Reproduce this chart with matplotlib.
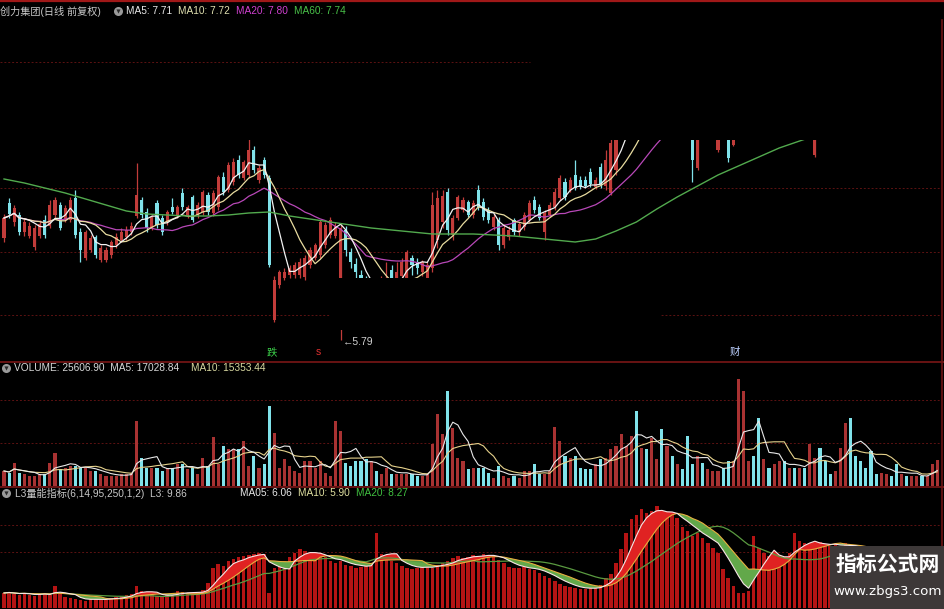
import numpy as np
import pandas as pd
import matplotlib
matplotlib.use("Agg")
import matplotlib.pyplot as plt
from matplotlib.patches import Rectangle
from matplotlib.lines import Line2D

plt.rcParams['font.family'] = ['Liberation Sans', 'Noto Sans CJK SC', 'DejaVu Sans']

# ---------------- data (prices in cents) ----------------
opens_c = [
    681,716,697,704,687,683,672,683,699,693,
    704,714,699,699,721,687,661,669,682,659,
    659,664,674,679,682,687,703,719,707,691,
    716,701,697,712,704,726,704,722,704,707,
    724,706,712,742,729,737,759,741,744,769,
    739,759,741,599,634,641,644,644,644,642,
    654,661,664,674,684,683,619,689,667,655,
    644,637,619,627,614,621,649,634,643,637,
    661,657,647,634,651,679,697,727,684,701,
    709,717,704,729,717,709,692,699,674,682,
    699,687,692,699,719,712,687,704,712,721,
    737,729,744,739,739,747,732,752,733,726,
    749,785,795,805,825,823,843,838,843,860,
    851,855,835,840,833,824,751,825,818,811,
    769,817,807,774,811,823,833,839,833,817,
    825,808,809,813,803,807,799,805,789,764,
    805,803,809,803,809,817,839,825,817,813,
    809,805,791,795,801,803,785,799,783,785,
    793,783,785,788]
closes_c = [
    701,705,711,687,697,693,691,695,684,714,
    719,691,711,719,684,669,687,681,664,671,
    669,677,682,687,689,693,724,704,691,702,
    694,687,707,707,712,712,712,699,714,727,
    707,726,742,727,754,757,744,757,769,749,
    751,744,654,639,647,647,651,654,657,661,
    669,674,697,694,699,693,691,669,657,647,
    637,629,624,621,624,631,639,647,657,667,
    654,651,657,654,714,721,723,689,701,722,
    719,704,716,712,702,699,702,674,691,689,
    687,695,704,716,709,701,706,714,727,741,
    722,739,731,732,733,735,739,735,759,776,
    781,791,801,811,819,829,837,844,849,854,
    857,849,841,834,827,759,809,819,824,817,
    801,811,761,804,817,829,839,833,827,823,
    819,814,815,807,809,801,805,799,795,795,
    799,797,803,809,815,823,833,819,811,807,
    803,799,797,801,795,797,791,793,789,791,
    787,789,791,794]
highs_c = [
    705,721,714,707,701,697,694,699,704,719,
    722,717,714,722,729,691,689,684,684,674,
    672,679,686,691,693,697,756,722,711,704,
    719,704,709,721,714,731,714,724,717,729,
    727,729,744,747,757,761,764,759,781,773,
    754,762,744,643,649,651,654,657,661,664,
    672,676,699,697,702,697,695,693,671,661,
    649,643,634,639,643,657,654,657,661,669,
    664,661,659,657,727,729,729,731,704,724,
    722,719,719,734,721,712,705,702,695,693,
    701,697,707,719,723,715,709,717,731,744,
    741,742,759,743,743,751,742,756,769,789,
    794,795,805,815,829,833,847,848,853,864,
    861,859,845,844,837,829,819,829,828,821,
    807,821,811,809,821,833,843,843,837,827,
    829,818,819,817,813,811,809,809,799,801,
    809,807,813,813,819,827,843,829,821,817,
    813,809,801,805,805,807,795,803,793,795,
    797,793,795,798]
lows_c = [
    677,701,693,684,683,681,669,681,681,691,
    701,689,697,697,681,657,659,667,661,657,
    657,661,671,677,679,684,701,701,687,689,
    691,684,694,705,701,709,701,697,701,704,
    704,703,709,724,727,734,741,739,741,746,
    736,741,652,597,631,639,641,641,641,639,
    651,659,661,671,681,681,579,663,651,639,
    629,621,613,614,609,617,627,629,639,634,
    644,645,643,627,647,671,691,684,679,699,
    707,702,701,709,699,696,689,669,671,679,
    684,683,689,697,706,699,679,702,709,719,
    719,727,729,730,731,732,730,731,729,724,
    744,781,791,801,815,819,833,834,839,850,
    847,845,831,830,823,737,749,815,814,807,
    767,807,757,773,807,819,829,829,823,813,
    815,804,805,803,799,797,795,795,785,762,
    795,793,799,799,805,813,829,815,807,803,
    799,795,787,791,791,793,781,789,780,781,
    783,780,781,784]

# volume in thousands
volume_k = [
    15,13,23,13,12,10,10,12,12,23,
    33,17,18,20,20,18,18,15,15,12,
    10,10,10,12,12,13,65,28,18,18,
    18,15,18,18,22,22,17,18,12,28,
    20,49,22,40,37,37,37,45,20,30,
    18,22,80,53,18,27,20,15,13,25,
    25,18,25,13,10,65,55,23,20,25,
    25,27,25,15,12,18,12,12,12,12,
    12,10,10,12,42,72,52,95,58,28,
    25,17,18,18,18,13,8,20,10,8,
    10,8,15,15,22,12,12,15,59,45,
    30,28,30,18,17,17,22,27,28,37,
    40,52,40,50,75,38,37,48,27,57,
    40,30,22,17,50,22,30,23,17,15,
    15,18,25,25,107,95,25,30,68,27,
    18,22,25,25,18,18,18,18,42,28,
    38,25,12,15,38,63,68,30,25,18,
    35,12,13,12,10,22,12,10,10,10,
    10,10,22,25.6]

# L3 volume-energy indicator
l3_values = [
    3.0,3.2,2.8,2.6,3.0,2.7,2.5,2.8,3.0,2.6,4.4,3.0,
    2.2,2.0,1.8,1.6,1.5,1.8,2.0,1.7,1.6,2.0,2.2,2.4,2.6,2.8,
    4.4,3.4,3.0,2.6,2.4,2.2,2.6,3.0,3.4,3.2,3.0,2.8,3.2,
    3.6,5.0,8.0,8.8,8.4,9.4,9.8,10.2,10.4,10.6,10.8,11.0,10.8,3.0,
    8.0,8.4,9.4,10.2,11.0,11.8,11.4,11.0,10.2,10.4,10.2,9.4,
    9.0,9.4,8.6,8.4,8.0,8.2,8.6,9.0,
    15.0,
    10.8,10.0,9.4,9.0,8.4,8.0,7.8,8.0,8.4,8.6,
    8.0,8.6,9.0,9.4,10.0,10.4,10.0,10.2,10.6,10.4,
    10.8,10.6,10.2,9.6,9.0,
    8.2,8.0,8.0,8.2,7.8,7.6,
    7.0,6.4,6.0,5.4,4.8,4.4,
    4.2,4.0,3.8,3.8,4.0,4.2,4.6,
    6.0,6.8,9.0,11.8,
    15.0,17.8,18.6,19.8,19.0,19.4,20.4,
    19.0,18.4,18.8,18.0,
    16.2,15.4,14.4,15.0,
    14.0,13.0,12.0,11.0,
    7.8,6.0,4.4,3.0,3.0,3.4,
    14.4,
    12.0,11.0,10.4,10.0,9.6,10.2,11.0,
    15.0,
    13.4,13.0,12.6,12.8,13.2,12.6,12.4,12.8,12.0,
    13.0,12.5,12.0,11.5,11.0,10.0,9.0,8.0,7.0,
    6.2,5.0,5.3,5.6,5.8,4.8,5.0,5.4,5.2,9.86]

ma60_days = list(range(0, 181, 4)) + [183]
ma60_vals = [7.40,7.36,7.31,7.26,7.20,7.14,7.08,7.05,7.04,7.03,7.03,7.04,7.06,7.07,
             7.03,7.00,6.97,6.94,6.91,6.89,6.87,6.85,6.85,6.85,6.84,6.83,6.81,6.79,
             6.77,6.80,6.88,6.97,7.10,7.22,7.33,7.44,7.53,7.62,7.71,7.78,7.85,7.91,
             7.96,8.01,8.05,8.09,8.11]

# ---------------- figure ----------------
W, H = 945, 609
fig = plt.figure(figsize=(W / 100, H / 100), dpi=100, facecolor='black')

def fx(px):
    return px / W

def fy(py):
    return 1 - py / H

SP = 5.1  # pixel spacing per day
XLIM = (-4 / SP, 938 / SP)
RIGHT = 942

ax_p = fig.add_axes([0, fy(362), fx(RIGHT), 222 / H])
ax_v = fig.add_axes([0, fy(486), fx(RIGHT), 123 / H])
ax_l = fig.add_axes([0, fy(608), fx(RIGHT), 120 / H])
for ax in (ax_p, ax_v, ax_l):
    ax.set_facecolor('black')
    ax.set_xlim(*XLIM)
    ax.set_axis_off()

o = np.array(opens_c) / 100.0
c = np.array(closes_c) / 100.0
h = np.array(highs_c) / 100.0
l = np.array(lows_c) / 100.0
N = len(c)
x = np.arange(N)
up = c >= o
RED = '#c23c3a'
CYAN = '#80e2ea'
cols = np.where(up, RED, CYAN)

grid_kw = dict(color='#5c1212', lw=0.7, ls=(0, (2, 2)), zorder=0.5)

# ---- price panel ----
ax_p.set_ylim(5.57, 7.79)
for gy in (7.31, 6.67, 6.04):
    ax_p.axhline(gy, **grid_kw)
ax_p.vlines(x, l, h, colors=cols, lw=0.9, zorder=2)
ax_p.bar(x, np.maximum(np.abs(c - o), 0.004), bottom=np.minimum(o, c), width=0.62,
         color=cols, linewidth=0, zorder=2)
cs = pd.Series(c)
ax_p.plot(x, cs.rolling(20, min_periods=1).mean(), color='#b848b8', lw=0.9, zorder=3)
ax_p.plot(x, cs.rolling(10, min_periods=1).mean(), color='#e8dca0', lw=0.9, zorder=3)
ax_p.plot(x, cs.rolling(5, min_periods=1).mean(), color='#f2f2f2', lw=0.9, zorder=3)
ax_p.plot(ma60_days, ma60_vals, color='#52aa4e', lw=1.0, zorder=3)
# blanked area of the original screenshot
ax_p.add_patch(Rectangle((63.9, 5.89), 128.6 - 63.9, 6.41 - 5.89, facecolor='black',
                         edgecolor='none', zorder=5))
ax_p.text(66.4, 5.77, '\u21905.79', color='#d0d0d0', fontsize=7.5, ha='left', va='center', zorder=6)
ax_p.text(52.6, 5.67, '跌', color='#3ccf4a', fontsize=7.5, ha='center', va='center', zorder=6)
ax_p.text(61.6, 5.67, 's', color='#e03030', fontsize=7.5, ha='center', va='center', zorder=6)
ax_p.text(143.3, 5.67, '财', color='#bcd0ff', fontsize=7.5, ha='center', va='center', zorder=6)

# ---- volume panel ----
v = np.array(volume_k, dtype=float)
ax_v.set_ylim(0, 123)
for gy in (86, 43):
    ax_v.axhline(gy, **grid_kw)
vcols = np.where(up, '#a83232', CYAN)
ax_v.bar(x, v, width=0.6, color=vcols, linewidth=0, zorder=2)
vs = pd.Series(v)
ax_v.plot(x, vs.rolling(10, min_periods=1).mean(), color='#e6d28c', lw=0.8, zorder=3)
ax_v.plot(x, vs.rolling(5, min_periods=1).mean(), color='#e8e8e8', lw=0.8, zorder=3)

# ---- L3 panel ----
l3 = np.array(l3_values)
ax_l.set_ylim(0, 24)
for gy in (16.6, 11.2):
    ax_l.axhline(gy, **grid_kw)
ax_l.bar(x, l3, width=0.7, color='#b51414', linewidth=0, zorder=2)
ls_ = pd.Series(l3)
m5 = ls_.rolling(5, min_periods=1).mean().values
m10 = ls_.rolling(10, min_periods=1).mean().values
m20 = ls_.rolling(20, min_periods=1).mean().values
ax_l.fill_between(x, m5, m10, where=m5 >= m10, interpolate=True, color='#e02222', lw=0, zorder=3)
ax_l.fill_between(x, m5, m10, where=m5 < m10, interpolate=True, color='#62a84a', lw=0, zorder=3)
ax_l.plot(x, m20, color='#5a9a40', lw=0.9, zorder=4)
ax_l.plot(x, m10, color='#e8b040', lw=0.8, zorder=4)
ax_l.plot(x, m5, color='#f6e6e6', lw=0.8, zorder=4)

# ---- frame lines ----
def fline(xs, ys, **kw):
    fig.add_artist(Line2D([fx(a) for a in xs], [fy(b) for b in ys], **kw))

fline([0, W], [0.8, 0.8], color='#a01818', lw=1.6)
fline([0, W], [362, 362], color='#7a1616', lw=1.2)
fline([0, W], [487, 487], color='#7a1616', lw=1.2)
fline([RIGHT, RIGHT], [20, H], color='#6a1414', lw=1.2)
fline([0, 530], [62, 62], color='#5c1212', lw=0.7, ls=(0, (2, 2)))

# ---- header texts ----
FS = 7.3
def ftext(px, py, s, color, **kw):
    fig.text(fx(px), fy(py), s, color=color, fontsize=kw.pop('fontsize', FS),
             ha=kw.pop('ha', 'left'), va=kw.pop('va', 'center'), **kw)

def icon(px, py):
    # grey round button with a small dark chevron (drawn as markers)
    fig.add_artist(Line2D([fx(px)], [fy(py)], marker='o', ms=6.5, mfc='#9a9a9a',
                          mec='none', ls='none'))
    fig.add_artist(Line2D([fx(px)], [fy(py - 0.5)], marker='v', ms=3, mfc='#2a2a2a',
                          mec='none', ls='none'))

ftext(0, 11, '创力集团(日线 前复权)', '#c8c8c8')
icon(118, 11)
ftext(126, 11, 'MA5: 7.71', '#e8e8e8')
ftext(178, 11, 'MA10: 7.72', '#e0e0b0')
ftext(236, 11, 'MA20: 7.80', '#d040d0')
ftext(294, 11, 'MA60: 7.74', '#48c048')

icon(6, 368)
ftext(14, 368, 'VOLUME: 25606.90  MA5: 17028.84', '#d8d8d8')
ftext(191, 368, 'MA10: 15353.44', '#d8d8a0')

icon(6, 493)
ftext(15, 493, 'L3量能指标(6,14,95,250,1,2)  L3: 9.86', '#c8c8c8')
ftext(240, 493, 'MA05: 6.06', '#e8e8e8')
ftext(298, 493, 'MA10: 5.90', '#e0e0a0')
ftext(356, 493, 'MA20: 8.27', '#40c040')

# ---- watermark ----
fig.add_artist(Rectangle((fx(830), 0), fx(115), 63 / H, transform=fig.transFigure,
                         facecolor='#3d3838', edgecolor='none', zorder=10))
fig.text(fx(888), fy(564), '指标公式网', color='white', fontsize=15, fontweight='bold',
         ha='center', va='center', zorder=11, family=['Noto Sans CJK SC'])
fig.text(fx(888), fy(592), 'www.zbgs3.com', color='white', fontsize=9.6,
         ha='center', va='center', zorder=11, family=['DejaVu Sans'])

fig.savefig('out.png', dpi=100, facecolor='black')
